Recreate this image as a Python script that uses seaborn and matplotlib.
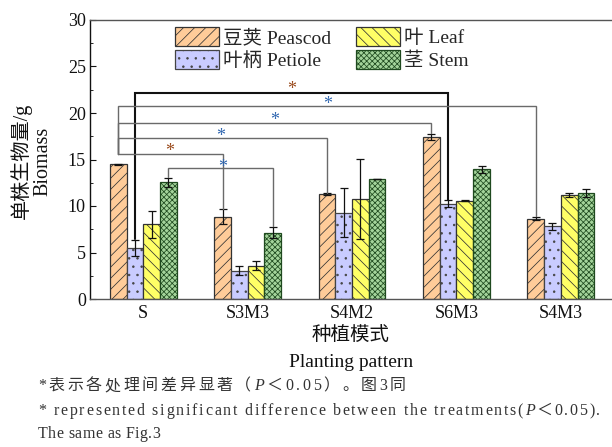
import numpy as np
import pandas as pd
import matplotlib
matplotlib.use("Agg")
import matplotlib.pyplot as plt
import seaborn as sns
from matplotlib.ticker import MultipleLocator
from matplotlib.offsetbox import TextArea, HPacker, DrawingArea, AnchoredOffsetbox

# ---------------- data ----------------
patterns = ["S", "S3M3", "S4M2", "S6M3", "S4M3"]
parts = ["豆荚 Peascod", "叶柄 Petiole", "叶 Leaf", "茎 Stem"]
peascod = [14.5, 8.85, 11.25, 17.45, 8.65]
petiole = [5.5, 3.05, 9.3, 10.25, 7.8]
leaf = [8.05, 3.6, 10.8, 10.55, 11.2]
stem = [12.55, 7.15, 12.9, 13.95, 11.4]
peascod_err = [0.05, 0.8, 0.1, 0.3, 0.2]
petiole_err = [0.85, 0.45, 2.6, 0.35, 0.4]
leaf_err = [1.45, 0.5, 4.3, 0.05, 0.2]
stem_err = [0.5, 0.6, 0.05, 0.35, 0.4]

# significance brackets: (part index, pattern index) -> (part index, pattern index)
br_from = [(1, 0), (0, 0), (0, 0), (0, 0), (0, 0), (3, 0)]
br_to = [(1, 3), (0, 4), (0, 3), (0, 2), (0, 1), (3, 1)]
br_y = [22.2, 20.7, 18.9, 17.35, 15.6, 14.05]
br_left_end = [6.45, 15.6, 15.6, 15.6, 15.6, 13.1]
br_right_end = [10.65, 8.9, 17.8, 11.4, 9.7, 7.8]
# stars
star_x = [1.42, 1.77, 1.26, 0.74, 0.25, 0.76]
star_y = [22.55, 20.95, 19.15, 17.5, 15.85, 14.15]
star_c = ["#9a4a1c", "#2f66b0", "#2f66b0", "#2f66b0", "#9a4a1c", "#2f66b0"]

# ---------------- style ----------------
sns.set_theme(style="white")
SERIF_CJK = ["Liberation Serif", "Noto Sans CJK SC"]
plt.rcParams["font.family"] = SERIF_CJK
plt.rcParams["hatch.linewidth"] = 0.55

fig = plt.figure(figsize=(6.12, 4.47), dpi=100)
ax = fig.add_axes([90 / 612, 1 - 299 / 447, 522 / 612, 279 / 447])

df = pd.DataFrame({
    "pattern": sum([[p] * 4 for p in patterns], []),
    "part": parts * len(patterns),
    "value": [v for i in range(len(patterns)) for v in (peascod[i], petiole[i], leaf[i], stem[i])],
})

face = ["#ffcc99", "#c9ccff", "#ffff66", "#a4d49b"]
edge = ["#333333", "#444444", "#333333", "#1f4a1f"]
hatches = ["///", "..", "\\\\\\", "xxxxxx"]

sns.barplot(data=df, x="pattern", y="value", hue="part", hue_order=parts,
            order=patterns, palette=face, width=0.64, gap=0, errorbar=None,
            legend=False, ax=ax, saturation=1)

bar_conts = list(ax.containers)
errs = [peascod_err, petiole_err, leaf_err, stem_err]
for j, cont in enumerate(bar_conts):
    xs, ys = [], []
    for bar in cont:
        bar.set_hatch(hatches[j])
        bar.set_edgecolor(edge[j])
        bar.set_linewidth(0.9)
        xs.append(bar.get_x() + bar.get_width() / 2)
        ys.append(bar.get_height())
    ax.errorbar(xs, ys, yerr=errs[j], fmt="none", ecolor="#111111",
                elinewidth=0.9, capsize=3, capthick=0.9, zorder=4)


def bar_center(part_i, pat_i):
    b = bar_conts[part_i][pat_i]
    return b.get_x() + b.get_width() / 2


for k in range(len(br_y)):
    x0 = bar_center(*br_from[k])
    x1 = bar_center(*br_to[k])
    col, lw = ("#111111", 1.5) if k == 0 else ("#6a6a6a", 1.0)
    ax.plot([x0, x0, x1, x1], [br_left_end[k], br_y[k], br_y[k], br_right_end[k]],
            color=col, lw=lw, zorder=5, solid_joinstyle="miter")
for k in range(len(star_x)):
    ax.text(star_x[k], star_y[k], "*", color=star_c[k], fontsize=13,
            ha="center", va="center", family="Liberation Serif", zorder=6)

ax.set_xlim(-0.51, 4.49)
ax.set_ylim(0, 30)
ax.yaxis.set_major_locator(MultipleLocator(5))
ax.yaxis.set_minor_locator(MultipleLocator(2.5))
ax.tick_params(axis="y", which="major", direction="in", length=4, width=0.8,
               labelsize=13, pad=3, left=True, colors="#111111")
ax.tick_params(axis="y", which="minor", direction="in", length=2.5, width=0.7, left=True)
ax.tick_params(axis="x", length=0, labelsize=13, pad=4, colors="#111111")
ax.spines["left"].set_color("#111111")
ax.spines["left"].set_linewidth(1.0)
for s in ["top", "bottom"]:
    ax.spines[s].set_color("#555555")
    ax.spines[s].set_linewidth(1.0)
ax.spines["right"].set_visible(False)

ax.set_ylabel("单株生物量/g\nBiomass", fontsize=14.5, linespacing=1.1, color="#111111")
ax.yaxis.set_label_coords(-0.072, 0.495)
ax.set_xlabel("种植模式\nPlanting pattern", fontsize=14, linespacing=1.7,
              labelpad=4, color="#111111")

leg = ax.legend(handles=bar_conts, labels=parts, ncol=2,
                loc="upper left", bbox_to_anchor=(0.163, 0.975), frameon=False,
                handlelength=2.25, handleheight=1.1, labelspacing=0.15,
                columnspacing=1.3, handletextpad=0.2, borderpad=0,
                borderaxespad=0, fontsize=14)


# ---------------- caption (justified lines) ----------------
def line_box(pieces, width_px, size=11, color="#333333"):
    kids = []
    for txt, italic in pieces:
        for ch in txt:
            if ch == " ":
                kids.append(DrawingArea(0.25 * size, 1))
            else:
                kids.append(TextArea(ch, textprops=dict(
                    fontsize=size, color=color, family=SERIF_CJK,
                    style="italic" if italic else "normal")))
    # HPacker width in expand mode is in display pixels
    return HPacker(children=kids, align="baseline", pad=0, sep=0,
                   width=width_px, mode="expand")


cap1 = [("*表示各处理间差异显著（", False), ("P", True), ("＜0.05）。图3同", False)]
cap2 = [("* represented significant difference between the treatments(", False),
        ("P", True), ("＜0.05).", False)]
cap3 = [("The same as Fig.3", False)]
for pieces, w, yc, sz in [(cap1, 368, 386, 11.5), (cap2, 562, 411, 11.5),
                          (cap3, 122, 434, 11.5)]:
    box = line_box(pieces, w, size=sz)
    anc = AnchoredOffsetbox(loc="center left", child=box, pad=0, borderpad=0,
                            frameon=False, bbox_to_anchor=(38 / 612, 1 - yc / 447),
                            bbox_transform=fig.transFigure)
    fig.add_artist(anc)

fig.savefig("out.png", dpi=100)
